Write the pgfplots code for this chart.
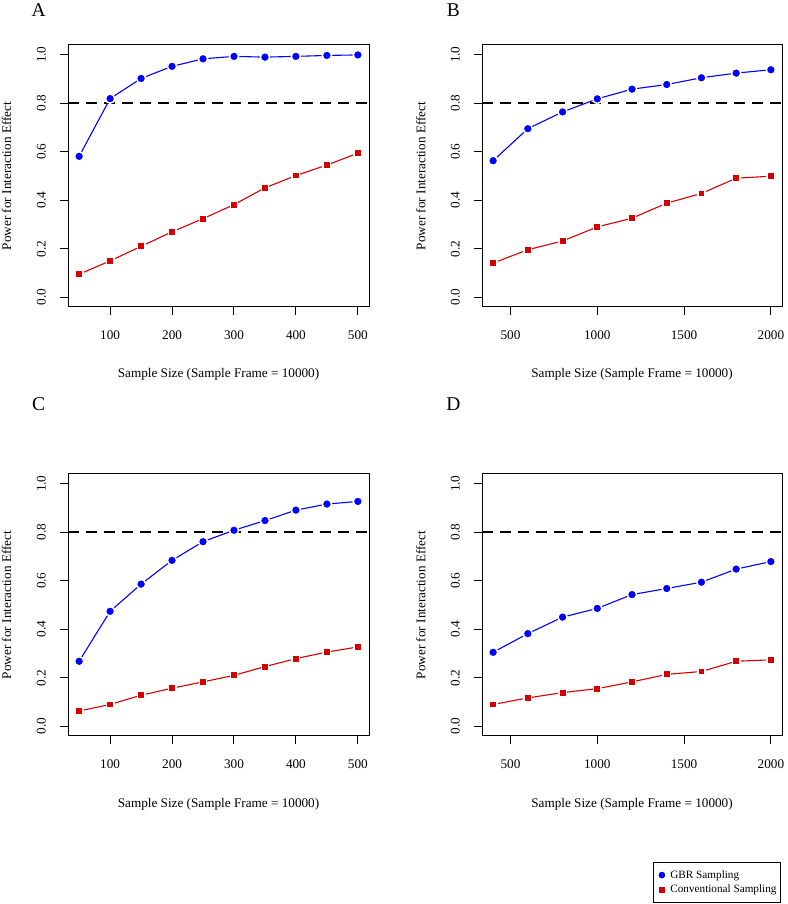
\documentclass[border=0pt]{standalone}
\usepackage{fontspec}
\setmainfont{Liberation Serif}
\usepackage{pgfplots}
\usepackage{pgfplotstable}
\pgfplotsset{compat=1.18}

\definecolor{gbr}{RGB}{0,0,255}
\definecolor{conv}{RGB}{215,0,0}

% panel A: n, GBR, conventional
\pgfplotstableread{
n   gbr   conv
50  0.581 0.095
100 0.819 0.150
150 0.902 0.210
200 0.952 0.270
250 0.983 0.324
300 0.993 0.382
350 0.990 0.451
400 0.993 0.502
450 0.997 0.545
500 0.999 0.594
}\tabA
\pgfplotstableread{
n    gbr   conv
400  0.563 0.141
600  0.695 0.196
800  0.764 0.232
1000 0.818 0.290
1200 0.858 0.326
1400 0.877 0.388
1600 0.905 0.428
1800 0.924 0.491
2000 0.938 0.499
}\tabB
\pgfplotstableread{
n   gbr   conv
50  0.268 0.063
100 0.474 0.090
150 0.586 0.128
200 0.684 0.157
250 0.761 0.183
300 0.808 0.210
350 0.848 0.246
400 0.891 0.279
450 0.916 0.306
500 0.927 0.327
}\tabC
\pgfplotstableread{
n    gbr   conv
400  0.305 0.090
600  0.382 0.117
800  0.450 0.139
1000 0.486 0.155
1200 0.543 0.183
1400 0.568 0.214
1600 0.594 0.226
1800 0.648 0.268
2000 0.679 0.274
}\tabD

\pgfplotsset{
  rpanel/.style={
    scale only axis, width=301pt, height=262pt, anchor=south west,
    ymin=-0.04, ymax=1.04, ytick={0,0.2,0.4,0.6,0.8,1},
    tick align=outside, tick pos=left, major tick length=8pt,
    axis line style={line width=1pt},
    every tick/.style={black, line width=1pt},
    /pgf/number format/assume math mode=true,
    tick label style={font=\fontsize{13.2}{15}\selectfont},
    yticklabel style={/pgf/number format/fixed, /pgf/number format/fixed zerofill,
      /pgf/number format/precision=1, rotate=90, anchor=south, inner sep=0pt},
    yticklabel shift=14pt,
    xticklabel style={anchor=north, inner sep=0pt, /pgf/number format/1000 sep={}},
    xticklabel shift=16pt,
    label style={font=\fontsize{13.2}{15}\selectfont},
    xlabel={Sample Size (Sample Frame = 10000)},
    ylabel={Power for Interaction Effect},
    xlabel style={at={(axis description cs:0.5,-0.271)}, anchor=base, inner sep=0pt},
    ylabel style={at={(axis description cs:-0.189,0.5)}, anchor=base, inner sep=0pt},
  },
  smallx/.style={xmin=32, xmax=518, xtick={100,200,300,400,500}},
  bigx/.style={xmin=336, xmax=2064, xtick={500,1000,1500,2000}},
  gbrline/.style={gbr, line width=1.1pt, mark=*, mark size=4.6pt,
    mark options={draw=white, fill=gbr, line width=1.5pt, solid}},
  convline/.style={conv, line width=1.1pt, mark=square*, mark size=3.7pt,
    mark options={draw=white, fill=conv, line width=1.5pt, solid}},
  cutoff/.style={black, line width=2pt, dash pattern=on 11pt off 7pt},
}

\begin{document}
\begin{tikzpicture}
\useasboundingbox (0pt,0pt) rectangle (787pt,904pt);

\begin{axis}[rpanel, smallx, at={(68pt,597pt)}]
  \addplot[cutoff] coordinates {(32,0.8) (518,0.8)};
  \addplot[gbrline] table[x=n, y=gbr] {\tabA};
  \addplot[convline] table[x=n, y=conv] {\tabA};
\end{axis}

\begin{axis}[rpanel, bigx, width=300pt, at={(482pt,597pt)}]
  \addplot[cutoff] coordinates {(336,0.8) (2064,0.8)};
  \addplot[gbrline] table[x=n, y=gbr] {\tabB};
  \addplot[convline] table[x=n, y=conv] {\tabB};
\end{axis}

\begin{axis}[rpanel, smallx, at={(68pt,168pt)}]
  \addplot[cutoff] coordinates {(32,0.8) (518,0.8)};
  \addplot[gbrline] table[x=n, y=gbr] {\tabC};
  \addplot[convline] table[x=n, y=conv] {\tabC};
\end{axis}

\begin{axis}[rpanel, bigx, width=300pt, at={(482pt,168pt)},
  legend style={at={(axis description cs:0.57,-0.481)}, anchor=north west,
    draw=black, line width=0.8pt, font=\fontsize{11.2}{13}\selectfont,
    inner xsep=2pt, inner ysep=6pt, row sep=1.2pt, cells={anchor=west}},
  legend image code/.code={\path[draw=none, fill=none] (-6.5pt,0pt) -- (6.5pt,0pt);
    \draw[#1, only marks] plot coordinates {(0pt,0pt)};}]
  \addplot[cutoff, forget plot] coordinates {(336,0.8) (2064,0.8)};
  \addplot[gbrline, forget plot] table[x=n, y=gbr] {\tabD};
  \addplot[convline, forget plot] table[x=n, y=conv] {\tabD};
  \addlegendimage{gbr, mark=*, mark size=2.9pt}
  \addlegendentry{GBR Sampling}
  \addlegendimage{conv, mark=square*, mark size=2.4pt}
  \addlegendentry{Conventional Sampling}
\end{axis}

\node[anchor=base, font=\fontsize{19.5}{22}\selectfont] at (38.7pt,887pt) {A};
\node[anchor=base, font=\fontsize{19.5}{22}\selectfont] at (453.3pt,887pt) {B};
\node[anchor=base, font=\fontsize{19.5}{22}\selectfont] at (38.7pt,493pt) {C};
\node[anchor=base, font=\fontsize{19.5}{22}\selectfont] at (453.3pt,493pt) {D};
\end{tikzpicture}
\end{document}
